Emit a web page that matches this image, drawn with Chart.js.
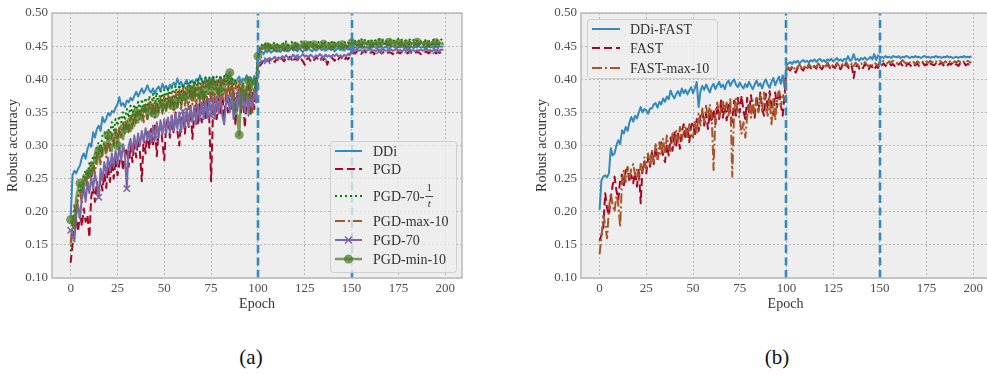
<!DOCTYPE html>
<html>
<head>
<meta charset="utf-8">
<script src="https://cdn.jsdelivr.net/npm/chart.js@4/dist/chart.umd.min.js"></script>
<style>
  html, body { margin: 0; padding: 0; background: #fff; }
  body { width: 987px; height: 375px; overflow: hidden; position: relative; }
  .panel { position: absolute; top: 0; height: 320px; }
  .sub { position: absolute; top: 345px; width: 60px; margin-left: -30px; text-align: center;
         font: 21px "Liberation Serif", serif; color: #111; }
</style>
</head>
<body>
<div class="panel" style="left:0;width:470px"><canvas id="chartA"></canvas></div>
<div class="panel" style="left:500px;width:500px"><canvas id="chartB"></canvas></div>
<div class="sub" style="left:251px">(a)</div>
<div class="sub" style="left:777px">(b)</div>
<script>
// epochs 0..199
const epochs = Array.from({ length: 200 }, (_, i) => i);
const xTicks = [0, 25, 50, 75, 100, 125, 150, 175, 200];
const yTicks = [0.10, 0.15, 0.20, 0.25, 0.30, 0.35, 0.40, 0.45, 0.50];
const phaseEpochs = [100, 150];

// ---- panel (a) ----
const ddi = [
  0.190, 0.255, 0.262, 0.258, 0.265, 0.270, 0.282, 0.288, 0.280, 0.295,
  0.303, 0.298, 0.320, 0.312, 0.325, 0.330, 0.322, 0.343, 0.335, 0.340,
  0.349, 0.345, 0.352, 0.350, 0.357, 0.362, 0.373, 0.360, 0.364, 0.358,
  0.368, 0.365, 0.372, 0.368, 0.375, 0.381, 0.374, 0.380, 0.386, 0.379,
  0.384, 0.391, 0.383, 0.380, 0.386, 0.378, 0.385, 0.389, 0.382, 0.393,
  0.386, 0.390, 0.383, 0.392, 0.388, 0.395, 0.390, 0.401, 0.392, 0.396,
  0.388, 0.394, 0.399, 0.391, 0.397, 0.398, 0.392, 0.400, 0.395, 0.406,
  0.398, 0.393, 0.402, 0.396, 0.401, 0.395, 0.404, 0.397, 0.392, 0.398,
  0.403, 0.396, 0.401, 0.408, 0.399, 0.394, 0.402, 0.397, 0.393, 0.400,
  0.404, 0.395, 0.401, 0.398, 0.406, 0.396, 0.403, 0.392, 0.405, 0.385,
  0.432, 0.440, 0.442, 0.438, 0.443, 0.441, 0.444, 0.440, 0.443, 0.445,
  0.442, 0.444, 0.441, 0.445, 0.443, 0.446, 0.442, 0.444, 0.447, 0.443,
  0.445, 0.442, 0.446, 0.444, 0.441, 0.445, 0.443, 0.447, 0.444, 0.442,
  0.446, 0.443, 0.445, 0.448, 0.444, 0.446, 0.443, 0.445, 0.447, 0.444,
  0.446, 0.442, 0.445, 0.447, 0.444, 0.446, 0.443, 0.447, 0.445, 0.446,
  0.448, 0.447, 0.449, 0.446, 0.448, 0.450, 0.447, 0.449, 0.448, 0.446,
  0.449, 0.448, 0.450, 0.447, 0.449, 0.448, 0.450, 0.447, 0.449, 0.448,
  0.446, 0.449, 0.450, 0.448, 0.447, 0.449, 0.448, 0.450, 0.447, 0.449,
  0.448, 0.450, 0.449, 0.447, 0.449, 0.448, 0.450, 0.448, 0.449, 0.447,
  0.449, 0.450, 0.448, 0.449, 0.447, 0.449, 0.448, 0.450, 0.449, 0.450
];
const pgd = [
  0.123, 0.150, 0.172, 0.190, 0.170, 0.200, 0.178, 0.205, 0.185, 0.195,
  0.161, 0.222, 0.238, 0.215, 0.245, 0.225, 0.250, 0.232, 0.258, 0.236,
  0.268, 0.245, 0.275, 0.250, 0.280, 0.255, 0.272, 0.290, 0.262, 0.285,
  0.296, 0.268, 0.300, 0.275, 0.305, 0.282, 0.310, 0.290, 0.246, 0.312,
  0.288, 0.320, 0.295, 0.325, 0.298, 0.330, 0.284, 0.322, 0.335, 0.305,
  0.278, 0.330, 0.342, 0.312, 0.345, 0.318, 0.350, 0.322, 0.300, 0.340,
  0.352, 0.318, 0.355, 0.328, 0.360, 0.310, 0.345, 0.362, 0.330, 0.365,
  0.335, 0.368, 0.338, 0.370, 0.342, 0.246, 0.348, 0.372, 0.340, 0.375,
  0.345, 0.378, 0.342, 0.380, 0.350, 0.382, 0.352, 0.385, 0.330, 0.378,
  0.388, 0.350, 0.382, 0.327, 0.372, 0.390, 0.345, 0.382, 0.355, 0.385,
  0.405, 0.420, 0.424, 0.428, 0.425, 0.430, 0.427, 0.432, 0.429, 0.426,
  0.431, 0.428, 0.433, 0.430, 0.427, 0.432, 0.429, 0.434, 0.430, 0.426,
  0.432, 0.429, 0.434, 0.431, 0.427, 0.422, 0.430, 0.433, 0.428, 0.432,
  0.429, 0.434, 0.430, 0.427, 0.432, 0.429, 0.433, 0.422, 0.430, 0.434,
  0.431, 0.428, 0.433, 0.430, 0.435, 0.431, 0.428, 0.433, 0.430, 0.434,
  0.438, 0.441, 0.439, 0.442, 0.440, 0.438, 0.441, 0.443, 0.439, 0.441,
  0.440, 0.442, 0.438, 0.441, 0.440, 0.443, 0.439, 0.441, 0.442, 0.439,
  0.441, 0.440, 0.438, 0.442, 0.440, 0.441, 0.439, 0.442, 0.440, 0.441,
  0.439, 0.443, 0.440, 0.441, 0.439, 0.442, 0.440, 0.438, 0.441, 0.440,
  0.442, 0.439, 0.441, 0.440, 0.442, 0.439, 0.441, 0.440, 0.441, 0.440
];
const pgd70inv = [
  0.140, 0.178, 0.205, 0.198, 0.225, 0.240, 0.228, 0.255, 0.262, 0.250,
  0.275, 0.268, 0.285, 0.278, 0.298, 0.305, 0.292, 0.315, 0.320, 0.308,
  0.325, 0.318, 0.335, 0.322, 0.340, 0.330, 0.345, 0.335, 0.350, 0.338,
  0.355, 0.342, 0.360, 0.345, 0.362, 0.350, 0.366, 0.352, 0.370, 0.356,
  0.372, 0.358, 0.375, 0.360, 0.378, 0.362, 0.380, 0.365, 0.382, 0.368,
  0.384, 0.370, 0.386, 0.372, 0.388, 0.374, 0.390, 0.375, 0.392, 0.378,
  0.393, 0.380, 0.395, 0.382, 0.396, 0.384, 0.398, 0.385, 0.400, 0.386,
  0.402, 0.388, 0.403, 0.390, 0.404, 0.390, 0.405, 0.392, 0.404, 0.393,
  0.406, 0.392, 0.405, 0.394, 0.407, 0.390, 0.404, 0.392, 0.400, 0.388,
  0.398, 0.382, 0.392, 0.375, 0.368, 0.358, 0.348, 0.365, 0.380, 0.398,
  0.442, 0.448, 0.452, 0.449, 0.454, 0.451, 0.455, 0.450, 0.453, 0.456,
  0.452, 0.454, 0.450, 0.455, 0.452, 0.457, 0.451, 0.454, 0.456, 0.452,
  0.455, 0.451, 0.454, 0.457, 0.452, 0.455, 0.450, 0.454, 0.456, 0.452,
  0.455, 0.451, 0.457, 0.453, 0.455, 0.452, 0.456, 0.453, 0.455, 0.458,
  0.452, 0.455, 0.453, 0.456, 0.452, 0.455, 0.457, 0.453, 0.455, 0.454,
  0.458, 0.461, 0.457, 0.460, 0.458, 0.462, 0.457, 0.459, 0.461, 0.457,
  0.460, 0.458, 0.461, 0.457, 0.459, 0.461, 0.458, 0.460, 0.457, 0.459,
  0.461, 0.458, 0.460, 0.457, 0.459, 0.461, 0.458, 0.460, 0.457, 0.459,
  0.458, 0.460, 0.457, 0.459, 0.461, 0.458, 0.460, 0.457, 0.459, 0.458,
  0.460, 0.457, 0.459, 0.458, 0.460, 0.457, 0.459, 0.458, 0.460, 0.458
];
const pgdMax10 = [
  0.152, 0.185, 0.210, 0.195, 0.222, 0.230, 0.212, 0.245, 0.252, 0.240,
  0.262, 0.250, 0.275, 0.258, 0.285, 0.292, 0.270, 0.298, 0.305, 0.282,
  0.310, 0.292, 0.318, 0.300, 0.325, 0.305, 0.330, 0.312, 0.335, 0.318,
  0.340, 0.320, 0.345, 0.326, 0.350, 0.332, 0.352, 0.338, 0.358, 0.335,
  0.362, 0.340, 0.365, 0.345, 0.368, 0.342, 0.370, 0.350, 0.372, 0.348,
  0.375, 0.352, 0.378, 0.355, 0.380, 0.350, 0.382, 0.358, 0.385, 0.356,
  0.386, 0.360, 0.388, 0.355, 0.390, 0.362, 0.392, 0.358, 0.394, 0.365,
  0.395, 0.362, 0.398, 0.366, 0.396, 0.360, 0.400, 0.368, 0.398, 0.364,
  0.400, 0.370, 0.402, 0.366, 0.398, 0.372, 0.400, 0.368, 0.396, 0.362,
  0.398, 0.358, 0.395, 0.352, 0.390, 0.365, 0.392, 0.350, 0.385, 0.375,
  0.438, 0.444, 0.447, 0.443, 0.448, 0.445, 0.449, 0.446, 0.448, 0.444,
  0.449, 0.446, 0.450, 0.447, 0.445, 0.449, 0.447, 0.450, 0.446, 0.448,
  0.451, 0.447, 0.449, 0.446, 0.450, 0.448, 0.445, 0.449, 0.447, 0.450,
  0.448, 0.446, 0.450, 0.447, 0.449, 0.451, 0.447, 0.449, 0.446, 0.450,
  0.448, 0.451, 0.447, 0.449, 0.450, 0.447, 0.449, 0.451, 0.448, 0.449,
  0.452, 0.450, 0.453, 0.451, 0.452, 0.450, 0.453, 0.451, 0.454, 0.451,
  0.452, 0.450, 0.453, 0.452, 0.451, 0.453, 0.450, 0.452, 0.454, 0.451,
  0.452, 0.450, 0.453, 0.451, 0.452, 0.454, 0.451, 0.453, 0.450, 0.452,
  0.451, 0.453, 0.452, 0.450, 0.453, 0.451, 0.452, 0.454, 0.451, 0.453,
  0.450, 0.452, 0.451, 0.453, 0.452, 0.451, 0.453, 0.452, 0.451, 0.453
];
const pgd70 = [
  0.172, 0.165, 0.155, 0.195, 0.210, 0.190, 0.222, 0.240, 0.215, 0.245,
  0.228, 0.252, 0.235, 0.258, 0.242, 0.222, 0.265, 0.248, 0.275, 0.255,
  0.282, 0.262, 0.288, 0.268, 0.292, 0.272, 0.298, 0.278, 0.302, 0.285,
  0.235, 0.300, 0.310, 0.290, 0.315, 0.295, 0.318, 0.300, 0.322, 0.305,
  0.326, 0.308, 0.322, 0.305, 0.330, 0.310, 0.335, 0.312, 0.338, 0.316,
  0.340, 0.318, 0.342, 0.320, 0.345, 0.322, 0.348, 0.325, 0.350, 0.320,
  0.352, 0.328, 0.355, 0.330, 0.358, 0.335, 0.360, 0.332, 0.362, 0.338,
  0.365, 0.340, 0.368, 0.342, 0.370, 0.345, 0.372, 0.340, 0.374, 0.348,
  0.375, 0.345, 0.332, 0.365, 0.376, 0.350, 0.378, 0.340, 0.372, 0.352,
  0.380, 0.355, 0.378, 0.350, 0.382, 0.345, 0.376, 0.358, 0.384, 0.365,
  0.417, 0.425, 0.428, 0.426, 0.430, 0.428, 0.432, 0.429, 0.431, 0.434,
  0.430, 0.433, 0.431, 0.435, 0.432, 0.436, 0.433, 0.430, 0.434, 0.437,
  0.433, 0.436, 0.432, 0.435, 0.438, 0.434, 0.436, 0.433, 0.437, 0.435,
  0.432, 0.436, 0.434, 0.438, 0.435, 0.433, 0.437, 0.434, 0.436, 0.433,
  0.437, 0.435, 0.438, 0.434, 0.436, 0.433, 0.437, 0.435, 0.438, 0.436,
  0.442, 0.444, 0.443, 0.445, 0.443, 0.444, 0.442, 0.445, 0.443, 0.444,
  0.446, 0.443, 0.444, 0.442, 0.445, 0.443, 0.444, 0.445, 0.443, 0.444,
  0.442, 0.445, 0.443, 0.444, 0.446, 0.443, 0.444, 0.442, 0.445, 0.443,
  0.444, 0.445, 0.443, 0.444, 0.442, 0.444, 0.443, 0.445, 0.443, 0.444,
  0.446, 0.443, 0.444, 0.442, 0.445, 0.443, 0.444, 0.443, 0.445, 0.444
];
const pgdMin10 = [
  0.188, 0.180, 0.175, 0.220, 0.235, 0.243, 0.230, 0.255, 0.240, 0.262,
  0.258, 0.275, 0.262, 0.288, 0.272, 0.292, 0.300, 0.285, 0.305, 0.295,
  0.316, 0.300, 0.292, 0.315, 0.325, 0.300, 0.320, 0.330, 0.310, 0.335,
  0.326, 0.340, 0.322, 0.345, 0.330, 0.350, 0.335, 0.352, 0.338, 0.355,
  0.356, 0.340, 0.358, 0.345, 0.362, 0.348, 0.365, 0.350, 0.368, 0.352,
  0.362, 0.355, 0.370, 0.356, 0.372, 0.360, 0.375, 0.358, 0.378, 0.362,
  0.374, 0.380, 0.365, 0.382, 0.370, 0.385, 0.368, 0.386, 0.372, 0.388,
  0.375, 0.390, 0.372, 0.392, 0.378, 0.394, 0.376, 0.395, 0.380, 0.396,
  0.382, 0.398, 0.385, 0.400, 0.390, 0.410, 0.392, 0.375, 0.350, 0.345,
  0.316, 0.380, 0.395, 0.368, 0.388, 0.398, 0.372, 0.392, 0.400, 0.382,
  0.435, 0.447, 0.450, 0.448, 0.452, 0.449, 0.451, 0.448, 0.452, 0.450,
  0.447, 0.451, 0.449, 0.453, 0.450, 0.448, 0.452, 0.449, 0.451, 0.447,
  0.450, 0.453, 0.449, 0.451, 0.448, 0.452, 0.450, 0.456, 0.451, 0.449,
  0.452, 0.450, 0.448, 0.451, 0.449, 0.453, 0.450, 0.448, 0.452, 0.450,
  0.451, 0.449, 0.453, 0.450, 0.448, 0.452, 0.450, 0.451, 0.449, 0.452,
  0.455, 0.453, 0.457, 0.454, 0.456, 0.453, 0.455, 0.457, 0.454, 0.456,
  0.453, 0.455, 0.454, 0.456, 0.453, 0.455, 0.457, 0.454, 0.455, 0.453,
  0.456, 0.454, 0.455, 0.453, 0.456, 0.454, 0.455, 0.457, 0.454, 0.455,
  0.453, 0.456, 0.454, 0.455, 0.453, 0.456, 0.454, 0.455, 0.454, 0.456,
  0.453, 0.455, 0.454, 0.456, 0.454, 0.455, 0.453, 0.455, 0.454, 0.455
];

// ---- panel (b) ----
const ddiFast = [
  0.203, 0.248, 0.253, 0.255, 0.252, 0.258, 0.296, 0.285, 0.288, 0.300,
  0.308, 0.302, 0.323, 0.318, 0.328, 0.322, 0.335, 0.343, 0.336, 0.345,
  0.341, 0.350, 0.358, 0.350, 0.355, 0.353, 0.348, 0.356, 0.356, 0.362,
  0.364, 0.357, 0.366, 0.362, 0.371, 0.366, 0.374, 0.370, 0.383, 0.376,
  0.371, 0.378, 0.382, 0.375, 0.386, 0.379, 0.384, 0.377, 0.383, 0.388,
  0.379, 0.386, 0.396, 0.358, 0.382, 0.390, 0.384, 0.392, 0.386, 0.380,
  0.389, 0.393, 0.385, 0.391, 0.396, 0.388, 0.392, 0.385, 0.394, 0.398,
  0.390, 0.396, 0.400, 0.392, 0.388, 0.395, 0.390, 0.386, 0.393, 0.388,
  0.396, 0.390, 0.385, 0.392, 0.398, 0.390, 0.394, 0.386, 0.395, 0.400,
  0.392, 0.387, 0.396, 0.402, 0.391, 0.398, 0.404, 0.393, 0.406, 0.388,
  0.420, 0.424, 0.426, 0.423, 0.427, 0.425, 0.428, 0.424, 0.427, 0.429,
  0.426, 0.428, 0.425, 0.429, 0.427, 0.430, 0.426, 0.429, 0.431, 0.427,
  0.429, 0.426, 0.430, 0.428, 0.431, 0.427, 0.429, 0.432, 0.428, 0.430,
  0.427, 0.431, 0.429, 0.435, 0.428, 0.430, 0.438, 0.429, 0.431, 0.428,
  0.432, 0.430, 0.433, 0.429, 0.431, 0.434, 0.430, 0.438, 0.429, 0.436,
  0.433, 0.434, 0.432, 0.435, 0.433, 0.434, 0.432, 0.435, 0.434, 0.433,
  0.435, 0.432, 0.434, 0.433, 0.435, 0.434, 0.432, 0.434, 0.433, 0.435,
  0.433, 0.434, 0.432, 0.434, 0.435, 0.433, 0.434, 0.432, 0.434, 0.433,
  0.435, 0.433, 0.434, 0.432, 0.434, 0.433, 0.435, 0.433, 0.434, 0.432,
  0.433, 0.434, 0.432, 0.434, 0.433, 0.435, 0.433, 0.434, 0.433, 0.435
];
const fast = [
  0.156, 0.165, 0.178, 0.228, 0.205, 0.195, 0.222, 0.240, 0.253, 0.232,
  0.218, 0.248, 0.256, 0.240, 0.262, 0.266, 0.245, 0.255, 0.243, 0.260,
  0.238, 0.265, 0.213, 0.268, 0.276, 0.258, 0.282, 0.268, 0.290, 0.272,
  0.298, 0.278, 0.295, 0.305, 0.285, 0.275, 0.302, 0.285, 0.312, 0.292,
  0.322, 0.300, 0.318, 0.295, 0.322, 0.332, 0.310, 0.328, 0.305, 0.330,
  0.336, 0.315, 0.340, 0.322, 0.345, 0.352, 0.330, 0.348, 0.325, 0.350,
  0.335, 0.355, 0.332, 0.362, 0.340, 0.368, 0.342, 0.360, 0.338, 0.365,
  0.350, 0.335, 0.368, 0.345, 0.372, 0.350, 0.375, 0.352, 0.340, 0.372,
  0.350, 0.376, 0.355, 0.342, 0.375, 0.352, 0.380, 0.356, 0.345, 0.378,
  0.355, 0.382, 0.360, 0.346, 0.380, 0.358, 0.385, 0.362, 0.345, 0.375,
  0.412, 0.416, 0.413, 0.418, 0.415, 0.410, 0.417, 0.420, 0.416, 0.413,
  0.419, 0.415, 0.421, 0.417, 0.414, 0.420, 0.416, 0.422, 0.418, 0.415,
  0.420, 0.417, 0.423, 0.418, 0.414, 0.420, 0.417, 0.422, 0.419, 0.415,
  0.421, 0.417, 0.423, 0.418, 0.415, 0.420, 0.402, 0.418, 0.422, 0.416,
  0.420, 0.417, 0.423, 0.419, 0.415, 0.421, 0.418, 0.414, 0.420, 0.417,
  0.423, 0.421, 0.424, 0.420, 0.423, 0.425, 0.421, 0.423, 0.420, 0.424,
  0.422, 0.425, 0.421, 0.423, 0.420, 0.424, 0.422, 0.419, 0.423, 0.421,
  0.424, 0.420, 0.423, 0.425, 0.421, 0.423, 0.420, 0.424, 0.422, 0.421,
  0.424, 0.420, 0.423, 0.425, 0.421, 0.423, 0.420, 0.424, 0.422, 0.425,
  0.421, 0.423, 0.420, 0.424, 0.422, 0.425, 0.421, 0.423, 0.422, 0.424
];
const fastMax10 = [
  0.136, 0.162, 0.194, 0.182, 0.160, 0.205, 0.228, 0.210, 0.200, 0.225,
  0.212, 0.177, 0.248, 0.262, 0.245, 0.268, 0.250, 0.265, 0.272, 0.255,
  0.265, 0.248, 0.272, 0.258, 0.282, 0.265, 0.288, 0.270, 0.292, 0.275,
  0.302, 0.280, 0.305, 0.285, 0.310, 0.290, 0.315, 0.295, 0.292, 0.318,
  0.300, 0.322, 0.305, 0.328, 0.308, 0.320, 0.330, 0.310, 0.332, 0.315,
  0.312, 0.335, 0.318, 0.348, 0.330, 0.356, 0.335, 0.360, 0.340, 0.362,
  0.345, 0.263, 0.350, 0.365, 0.342, 0.358, 0.368, 0.348, 0.365, 0.345,
  0.370, 0.253, 0.352, 0.372, 0.350, 0.340, 0.318, 0.335, 0.312, 0.345,
  0.362, 0.342, 0.368, 0.348, 0.372, 0.350, 0.376, 0.352, 0.380, 0.358,
  0.345, 0.375, 0.332, 0.370, 0.338, 0.368, 0.382, 0.358, 0.378, 0.368,
  0.414, 0.418, 0.415, 0.420, 0.417, 0.413, 0.419, 0.422, 0.418, 0.415,
  0.421, 0.417, 0.423, 0.419, 0.416, 0.422, 0.418, 0.424, 0.420, 0.417,
  0.422, 0.419, 0.425, 0.420, 0.417, 0.423, 0.419, 0.425, 0.421, 0.418,
  0.423, 0.420, 0.426, 0.421, 0.418, 0.424, 0.420, 0.425, 0.422, 0.419,
  0.424, 0.421, 0.426, 0.422, 0.419, 0.424, 0.421, 0.425, 0.423, 0.420,
  0.427, 0.425, 0.428, 0.426, 0.424, 0.427, 0.425, 0.428, 0.426, 0.424,
  0.427, 0.425, 0.429, 0.426, 0.424, 0.427, 0.425, 0.428, 0.426, 0.423,
  0.427, 0.425, 0.428, 0.426, 0.424, 0.427, 0.425, 0.428, 0.426, 0.424,
  0.427, 0.425, 0.428, 0.426, 0.424, 0.427, 0.425, 0.428, 0.426, 0.424,
  0.427, 0.425, 0.428, 0.426, 0.424, 0.427, 0.425, 0.428, 0.426, 0.425
];

const FONT = '"Liberation Serif", serif';
const BLUE = '#348ABD', RED = '#A60628', GREEN = '#008000', BROWN = '#A65628',
      PURPLE = '#7A68A6', OLIVE = 'rgba(70,120,33,0.7)';

const pts = arr => epochs.map((e, i) => ({ x: e, y: arr[i] }));
const every = (n, r) => ctx => (ctx.dataIndex % n === 0 ? r : 0);

function series(label, arr, color, dash, extra) {
  return Object.assign({
    label, data: pts(arr), borderColor: color, borderWidth: 2, borderDash: dash,
    borderJoinStyle: 'round', pointRadius: 0, tension: 0, fill: false
  }, extra || {});
}

// background, phase lines, spines, titles and legend
const sheet = {
  id: 'sheet',
  beforeDraw(chart) {
    const a = chart.chartArea, ctx = chart.ctx;
    ctx.save();
    ctx.fillStyle = '#eeeeee';
    ctx.fillRect(a.left, a.top, a.right - a.left, a.bottom - a.top);
    ctx.restore();
  },
  afterDatasetsDraw(chart) {
    const a = chart.chartArea, ctx = chart.ctx, xs = chart.scales.x;
    ctx.save();
    ctx.strokeStyle = BLUE; ctx.lineWidth = 2.6; ctx.setLineDash([8, 4.5]);
    phaseEpochs.forEach(e => {
      const px = Math.round(xs.getPixelForValue(e));
      ctx.beginPath(); ctx.moveTo(px, a.bottom); ctx.lineTo(px, a.top); ctx.stroke();
    });
    ctx.restore();
  },
  afterDraw(chart, args, opts) {
    const a = chart.chartArea, ctx = chart.ctx;
    ctx.save();
    ctx.strokeStyle = '#bcbcbc'; ctx.lineWidth = 1.6; ctx.setLineDash([]);
    ctx.strokeRect(a.left, a.top, a.right - a.left, a.bottom - a.top);
    // axis titles
    ctx.fillStyle = '#333'; ctx.font = '14px ' + FONT;
    ctx.textAlign = 'center'; ctx.textBaseline = 'middle';
    ctx.fillText('Epoch', (a.left + a.right) / 2, a.bottom + 26);
    ctx.save();
    ctx.translate(a.left - 39, (a.top + a.bottom) / 2);
    ctx.rotate(-Math.PI / 2);
    ctx.fillText('Robust accuracy', 0, 0);
    ctx.restore();
    // legend
    const L = opts.legend, b = L.box;
    ctx.beginPath();
    ctx.roundRect(b.x + 0.5, b.y + 0.5, b.w, b.h, 3);
    ctx.fillStyle = 'rgba(238,238,238,0.8)'; ctx.fill();
    ctx.strokeStyle = 'rgba(204,204,204,0.9)'; ctx.lineWidth = 1; ctx.stroke();
    chart.data.datasets.forEach((ds, i) => {
      const y = L.rows[i], x0 = L.sample[0], x1 = L.sample[1];
      ctx.save();
      ctx.strokeStyle = ds.borderColor; ctx.lineWidth = ds.borderWidth;
      ctx.setLineDash(ds.borderDash || []);
      ctx.beginPath(); ctx.moveTo(x0, y); ctx.lineTo(x1, y); ctx.stroke();
      ctx.setLineDash([]);
      const cx = (x0 + x1) / 2;
      if (ds.pointStyle === 'crossRot') {
        ctx.strokeStyle = ds.pointBorderColor; ctx.lineWidth = 1.5;
        ctx.beginPath();
        ctx.moveTo(cx - 3.5, y - 3.5); ctx.lineTo(cx + 3.5, y + 3.5);
        ctx.moveTo(cx - 3.5, y + 3.5); ctx.lineTo(cx + 3.5, y - 3.5);
        ctx.stroke();
      } else if (ds.pointStyle === 'circle') {
        ctx.fillStyle = ds.pointBackgroundColor;
        ctx.beginPath(); ctx.arc(cx, y, 4.5, 0, Math.PI * 2); ctx.fill();
      }
      ctx.restore();
      ctx.fillStyle = '#333'; ctx.font = '14px ' + FONT;
      ctx.textAlign = 'left'; ctx.textBaseline = 'middle';
      const m = /^(.*-)(\d+)\/(\w)$/.exec(ds.label);
      if (m) {
        ctx.fillText(m[1], L.textX, y + 1);
        const fx = L.textX + ctx.measureText(m[1]).width + 1;
        ctx.font = '11px ' + FONT; ctx.textAlign = 'center';
        ctx.fillText(m[2], fx + 4, y - 7.5);
        ctx.font = 'italic 11px ' + FONT;
        ctx.fillText(m[3], fx + 4, y + 8.5);
        ctx.fillRect(fx, y, 8, 0.9);
      } else {
        ctx.fillText(ds.label, L.textX, y + 1);
      }
    });
    ctx.restore();
  }
};

function makeOptions(yWidth, padRight, legend) {
  const tickFont = { family: FONT, size: 13 };
  return {
    responsive: true, maintainAspectRatio: false, animation: false, events: [],
    layout: { padding: { left: 0, right: padRight, top: 13, bottom: 0 } },
    plugins: { legend: { display: false }, tooltip: { enabled: false }, sheet: { legend } },
    scales: {
      x: {
        type: 'linear', min: -9.95, max: 208.95,
        afterBuildTicks: s => { s.ticks = xTicks.map(v => ({ value: v })); },
        afterFit: s => { s.height = 42; },
        ticks: { font: tickFont, color: '#4d4d4d', padding: 3, callback: v => String(v), maxRotation: 0 },
        grid: { color: '#b2b2b2', lineWidth: 0.9, drawTicks: false },
        border: { display: false, dash: [2, 2] }
      },
      y: {
        min: 0.10, max: 0.50,
        afterBuildTicks: s => { s.ticks = yTicks.map(v => ({ value: v })); },
        afterFit: s => { s.width = yWidth; },
        ticks: { font: tickFont, color: '#4d4d4d', padding: 4, callback: v => v.toFixed(2) },
        grid: { color: '#b2b2b2', lineWidth: 0.9, drawTicks: false },
        border: { display: false, dash: [2, 2] }
      }
    }
  };
}

const setA = [
  series('DDi', ddi, BLUE, []),
  series('PGD', pgd, RED, [8, 4]),
  series('PGD-70-1/t', pgd70inv, GREEN, [2, 3]),
  series('PGD-max-10', pgdMax10, BROWN, [10, 3, 2, 3]),
  series('PGD-70', pgd70, PURPLE, [], {
    pointStyle: 'crossRot', pointRadius: every(15, 4.5), pointBorderColor: PURPLE,
    pointBorderWidth: 1.5, pointBackgroundColor: PURPLE
  }),
  series('PGD-min-10', pgdMin10, OLIVE, [], {
    borderWidth: 2.6,
    pointStyle: 'circle', pointRadius: every(5, 4.5), pointBorderWidth: 0,
    pointBackgroundColor: OLIVE, pointBorderColor: OLIVE
  })
];
setA.forEach((d, i) => { d.order = setA.length - i; });

new Chart(document.getElementById('chartA'), {
  type: 'line',
  data: { datasets: setA },
  options: makeOptions(52, 8, {
    box: { x: 330, y: 141, w: 126, h: 131 },
    rows: [151, 169, 196, 221, 240, 259],
    sample: [335, 362], textX: 373
  }),
  plugins: [sheet]
});

const setB = [
  series('DDi-FAST', ddiFast, BLUE, []),
  series('FAST', fast, RED, [8, 4]),
  series('FAST-max-10', fastMax10, BROWN, [10, 3, 2, 3])
];
setB.forEach((d, i) => { d.order = setB.length - i; });

new Chart(document.getElementById('chartB'), {
  type: 'line',
  data: { datasets: setB },
  options: makeOptions(81, 10, {
    box: { x: 87, y: 19, w: 130, h: 59 },
    rows: [29, 48, 68],
    sample: [92, 120], textX: 130
  }),
  plugins: [sheet]
});
</script>
</body>
</html>
